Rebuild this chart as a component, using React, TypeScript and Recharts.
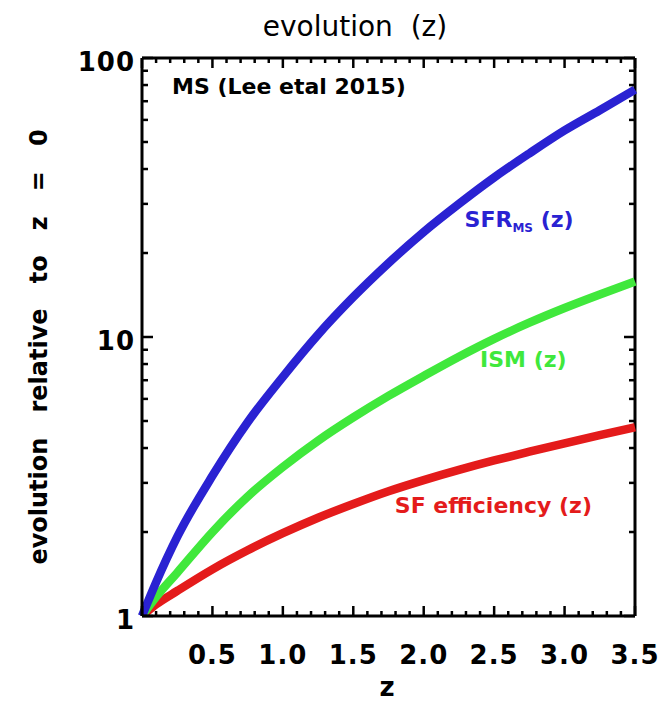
import { LineChart, Line, XAxis, YAxis, ReferenceLine, ReferenceDot } from 'recharts';

// redshift grid and curves
const zValues = [0, 0.1, 0.25, 0.5, 0.75, 1.0, 1.25, 1.5, 1.75, 2.0, 2.25, 2.5, 2.75, 3.0, 3.25, 3.5];
const sfrMS = [1, 1.32, 1.92, 3.18, 4.95, 7.2, 10.2, 13.9, 18.4, 23.8, 30, 37.3, 45.5, 55, 65, 77];
const ismZ = [1, 1.17, 1.43, 2.0, 2.68, 3.42, 4.25, 5.15, 6.15, 7.25, 8.5, 9.85, 11.25, 12.7, 14.2, 15.8];
const sfEff = [1, 1.1, 1.23, 1.47, 1.72, 1.98, 2.25, 2.52, 2.8, 3.07, 3.34, 3.61, 3.88, 4.16, 4.45, 4.75];

const yMajor = [1, 10, 100];
const yTicks = [1, 2, 3, 4, 5, 6, 7, 8, 9, 10, 20, 30, 40, 50, 60, 70, 80, 90, 100];
const xTicks = Array.from({ length: 36 }, (_, i) => i / 10);
const xLabels = [0.5, 1.0, 1.5, 2.0, 2.5, 3.0, 3.5];

const W = 665;
const H = 704;
const PL = 142;
const PR = 635;
const PT = 58;
const PB = 616;

const BOLD = '"DejaVu Sans", "Liberation Sans", sans-serif';
const BLUE = '#2a22d2';
const GREEN = '#40e83c';
const RED = '#e41b1b';

const data = zValues.map((z, i) => ({ z, sfr: sfrMS[i], ism: ismZ[i], eff: sfEff[i] }));

const YTick = (props: any) => {
  const { y, payload } = props;
  const v = payload.value;
  const major = yMajor.includes(v);
  const len = major ? 11 : 6;
  return (
    <g>
      <line x1={PL} x2={PL + len} y1={y} y2={y} stroke="#000" strokeWidth={2.5} />
      <line x1={PR} x2={PR - len} y1={y} y2={y} stroke="#000" strokeWidth={2.5} />
      {major && (
        <text x={PL - 7} y={y + 4} textAnchor="end" dominantBaseline="central" fontFamily={BOLD} fontWeight="bold" fontSize={26} letterSpacing={1} fill="#000">
          {v}
        </text>
      )}
    </g>
  );
};

const XTick = (props: any) => {
  const { x, payload } = props;
  const v = payload.value;
  const major = Math.abs(v * 2 - Math.round(v * 2)) < 1e-6;
  const len = major ? 10 : 5;
  const lab = xLabels.find(l => Math.abs(l - v) < 1e-6);
  return (
    <g>
      <line x1={x} x2={x} y1={PB} y2={PB - len} stroke="#000" strokeWidth={2.5} />
      <line x1={x} x2={x} y1={PT} y2={PT + len} stroke="#000" strokeWidth={2.5} />
      {lab !== undefined && (
        <text x={x} y={664} textAnchor="middle" fontFamily={BOLD} fontWeight="bold" fontSize={26} letterSpacing={1} fill="#000">
          {lab.toFixed(1)}
        </text>
      )}
    </g>
  );
};

const curveLabel = (text: string, color: string, sub?: string, rest?: string) => (p: any) => {
  const { x, y } = p.viewBox;
  return (
    <text x={x} y={y} fontFamily={BOLD} fontWeight="bold" fontSize={22} fill={color} style={{ whiteSpace: 'pre' }}>
      {text}
      {sub && <tspan fontSize={12} dy={5}>{sub}</tspan>}
      {rest && <tspan dy={sub ? -5 : 0}>{rest}</tspan>}
    </text>
  );
};

export default function App() {
  return (
    <div style={{ position: 'absolute', left: 0, top: 0, width: W, height: H, background: '#fff' }}>
      <LineChart width={W} height={H} data={data} margin={{ top: PT, right: W - PR, bottom: 0, left: 0 }}>
        <XAxis
          dataKey="z"
          type="number"
          domain={[0, 3.5]}
          ticks={xTicks}
          interval={0}
          height={H - PB}
          tick={<XTick />}
          tickLine={false}
          axisLine={{ stroke: '#000', strokeWidth: 3 }}
        />
        <YAxis
          scale="log"
          type="number"
          domain={[1, 100]}
          allowDataOverflow
          ticks={yTicks}
          interval={0}
          width={PL}
          tick={<YTick />}
          tickLine={false}
          axisLine={{ stroke: '#000', strokeWidth: 3 }}
        />
        <ReferenceLine y={100} stroke="#000" strokeWidth={3} />
        <ReferenceLine x={3.5} stroke="#000" strokeWidth={3} />
        <Line type="monotone" dataKey="eff" stroke={RED} strokeWidth={8.5} dot={false} isAnimationActive={false} />
        <Line type="monotone" dataKey="ism" stroke={GREEN} strokeWidth={8.5} dot={false} isAnimationActive={false} />
        <Line type="monotone" dataKey="sfr" stroke={BLUE} strokeWidth={8.5} dot={false} isAnimationActive={false} />
        <ReferenceDot x={2.29} y={24.8} r={0} fill="none" stroke="none" label={curveLabel('SFR', BLUE, 'MS', ' (z)')} />
        <ReferenceDot x={2.4} y={7.8} r={0} fill="none" stroke="none" label={curveLabel('ISM (z)', GREEN)} />
        <ReferenceDot x={1.795} y={2.34} r={0} fill="none" stroke="none" label={curveLabel('SF efficiency (z)', RED)} />
      </LineChart>
      <svg width={W} height={H} style={{ position: 'absolute', left: 0, top: 0, pointerEvents: 'none' }}>
        <text x={355} y={36} textAnchor="middle" fontFamily={BOLD} fontSize={28} fill="#000" style={{ whiteSpace: 'pre' }}>
          evolution  (z)
        </text>
        <text x={172} y={94} fontFamily={BOLD} fontWeight="bold" fontSize={22} fill="#000" style={{ whiteSpace: 'pre' }}>
          MS (Lee etal 2015)
        </text>
        <text x={387} y={696} textAnchor="middle" fontFamily={BOLD} fontWeight="bold" fontSize={26} fill="#000">
          z
        </text>
        <text
          transform="translate(47,347) rotate(-90)"
          textAnchor="middle"
          fontFamily={BOLD}
          fontWeight="bold"
          fontSize={24}
          fill="#000"
          style={{ whiteSpace: 'pre' }}
        >
          evolution   relative   to   z   =   0
        </text>
      </svg>
    </div>
  );
}
